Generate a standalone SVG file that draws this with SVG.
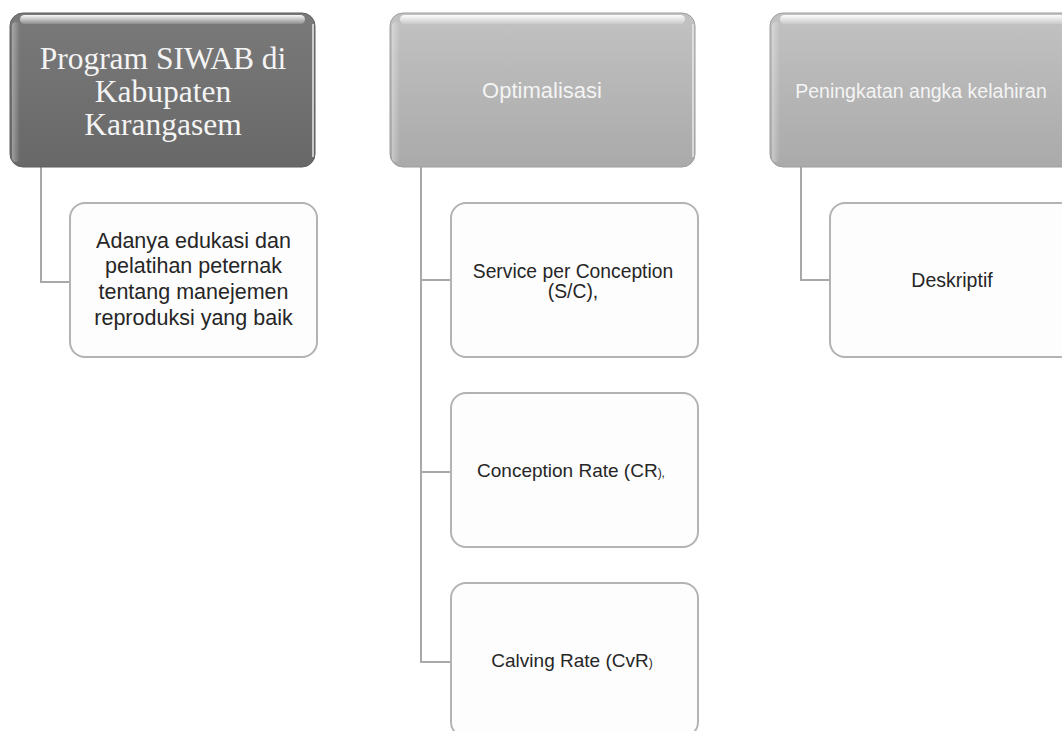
<svg xmlns="http://www.w3.org/2000/svg" width="1062" height="731" viewBox="0 0 1062 731">
<defs>
<linearGradient id="gDark" x1="0" y1="0" x2="0" y2="1">
<stop offset="0" stop-color="#7a7a7a"/><stop offset="1" stop-color="#686868"/>
</linearGradient>
<linearGradient id="gLight" x1="0" y1="0" x2="0" y2="1">
<stop offset="0" stop-color="#c2c2c2"/><stop offset="1" stop-color="#aaaaaa"/>
</linearGradient>
<linearGradient id="gShine" x1="0" y1="0" x2="0" y2="1">
<stop offset="0" stop-color="#ffffff" stop-opacity="0.95"/><stop offset="1" stop-color="#ffffff" stop-opacity="0.15"/>
</linearGradient>
<linearGradient id="gSide" x1="0" y1="0" x2="1" y2="0">
<stop offset="0" stop-color="#ffffff" stop-opacity="0.35"/><stop offset="1" stop-color="#ffffff" stop-opacity="0"/>
</linearGradient>
</defs>
<style>
.conn{fill:none;stroke:#a8a8a8;stroke-width:2}
.child{fill:#fdfdfd;stroke:#b3b3b3;stroke-width:2}
.edge{fill:none;stroke:#e8e8e8;stroke-width:1.5}
.shine{fill:url(#gShine)}
.side{fill:url(#gSide)}
.serif{font-family:"Liberation Serif","Times New Roman",serif;font-size:31.5px;fill:#f4f4f4;text-anchor:middle}
.hs{font-family:"Liberation Sans",Arial,sans-serif;fill:#f4f4f4;text-anchor:middle}
.ct{font-family:"Liberation Sans",Arial,sans-serif;fill:#262626;text-anchor:middle}
</style>
<rect width="1062" height="731" fill="#ffffff"/>
<g id="connectors">
<path class="conn" d="M41,167 V282 H70"/>
<path class="conn" d="M421,167 V662 H451 M421,280 H451 M421,472 H451"/>
<path class="conn" d="M801,167 V280 H830"/>
</g>
<g id="header1">
<rect x="10" y="13" width="305" height="154" rx="13" fill="url(#gDark)" stroke="#5e5e5e" stroke-width="1"/>
<rect x="20" y="15" width="285" height="9" rx="4.5" class="shine"/>
<rect x="12" y="22" width="8" height="140" rx="4" class="side"/>
<path class="edge" d="M313,24 V157"/>
<text class="serif" x="163" y="69">Program SIWAB di</text>
<text class="serif" x="163" y="102">Kabupaten</text>
<text class="serif" x="163" y="135">Karangasem</text>
</g>
<g id="header2">
<rect x="390" y="13" width="305" height="154" rx="13" fill="url(#gLight)" stroke="#9e9e9e" stroke-width="1"/>
<rect x="400" y="15" width="285" height="9" rx="4.5" class="shine"/>
<rect x="392" y="22" width="8" height="140" rx="4" class="side"/>
<path class="edge" d="M693,24 V157"/>
<text class="hs" x="542" y="98" font-size="22">Optimalisasi</text>
</g>
<g id="header3">
<rect x="770" y="13" width="305" height="154" rx="13" fill="url(#gLight)" stroke="#9e9e9e" stroke-width="1"/>
<rect x="780" y="15" width="285" height="9" rx="4.5" class="shine"/>
<rect x="772" y="22" width="8" height="140" rx="4" class="side"/>
<text class="hs" x="921" y="98" font-size="19.5">Peningkatan angka kelahiran</text>
</g>
<g id="child1">
<rect class="child" x="70" y="203" width="247" height="154" rx="15"/>
<text class="ct" font-size="21.5" x="193.5" y="248">Adanya edukasi dan</text>
<text class="ct" font-size="21.5" x="193.5" y="273">pelatihan  peternak</text>
<text class="ct" font-size="21.5" x="193.5" y="299">tentang  manejemen</text>
<text class="ct" font-size="21.5" x="193.5" y="325">reproduksi yang baik</text>
</g>
<g id="child2">
<rect class="child" x="451" y="203" width="247" height="154" rx="15"/>
<text class="ct" font-size="19.3" x="573" y="278">Service per Conception</text>
<text class="ct" font-size="19.3" x="573" y="298">(S/C),</text>
</g>
<g id="child3">
<rect class="child" x="451" y="393" width="247" height="154" rx="15"/>
<text class="ct" font-size="19" x="571" y="477">Conception Rate (CR<tspan font-size="12">),</tspan></text>
</g>
<g id="child4">
<rect class="child" x="451" y="583" width="247" height="154" rx="15"/>
<text class="ct" font-size="19" x="572" y="667">Calving Rate (CvR<tspan font-size="12">)</tspan></text>
</g>
<g id="child5">
<rect class="child" x="830" y="203" width="247" height="154" rx="15"/>
<text class="ct" font-size="19.5" x="952" y="287">Deskriptif</text>
</g>
</svg>
